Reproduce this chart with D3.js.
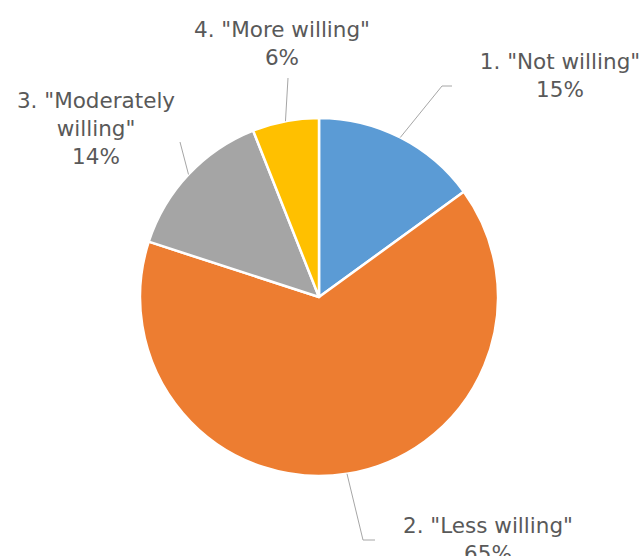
<!DOCTYPE html>
<html>
<head>
<meta charset="utf-8">
<script src="https://cdn.jsdelivr.net/npm/d3@7"></script>
<style>
  html, body { margin: 0; padding: 0; background: #fff; }
  svg { display: block; }
</style>
</head>
<body>
<svg id="chart" width="642" height="556"></svg>
<script>
// Willingness responses, clockwise from 12 o'clock
const categories = ['1. "Not willing"', '2. "Less willing"', '3. "Moderately willing"', '4. "More willing"'];
const values = [15, 65, 14, 6];
const colors = ["#5B9BD5", "#ED7D31", "#A5A5A5", "#FFC000"];

// Label text lines for each slice (the long category wraps)
const labelLines = [
  ['1. "Not willing"'],
  ['2. "Less willing"'],
  ['3. "Moderately', 'willing"'],
  ['4. "More willing"']
];

// Label placement: centre x and first baseline y, plus leader elbow and tail
const labelLayout = [
  { x: 560, y: 69,  elbow: [442, 86],  tail: [452, 86] },
  { x: 488, y: 533, elbow: [363, 540], tail: [375, 540] },
  { x: 96,  y: 108, elbow: [180, 142], tail: null },
  { x: 282, y: 37,  elbow: [288, 78],  tail: null }
];

const W = 642, H = 556;
const cx = 319, cy = 297, radius = 179;
const lineH = 28;

const svg = d3.select("#chart");
const g = svg.append("g").attr("transform", `translate(${cx},${cy})`);

const pie = d3.pie().sort(null).value(d => d.value);
const arc = d3.arc().innerRadius(0).outerRadius(radius);

const data = categories.map((c, i) => ({ name: c, value: values[i], color: colors[i] }));
const arcs = pie(data);

g.selectAll("path.slice")
  .data(arcs)
  .join("path")
  .attr("class", "slice")
  .attr("d", arc)
  .attr("fill", d => d.data.color)
  .attr("stroke", "#fff")
  .attr("stroke-width", 2.5)
  .attr("stroke-linejoin", "round");

const total = d3.sum(values);

// Leader lines from the arc edge at each slice's mid-angle
arcs.forEach((a, i) => {
  const mid = (a.startAngle + a.endAngle) / 2;
  const sx = cx + radius * Math.sin(mid);
  const sy = cy - radius * Math.cos(mid);
  const L = labelLayout[i];
  const pts = [[sx, sy], L.elbow];
  if (L.tail) pts.push(L.tail);
  svg.append("path")
    .attr("d", d3.line()(pts))
    .attr("fill", "none")
    .attr("stroke", "#A6A6A6")
    .attr("stroke-width", 1);
});

// Data labels: category name and percentage
arcs.forEach((a, i) => {
  const L = labelLayout[i];
  const lines = labelLines[i].concat([d3.format(".0%")(a.data.value / total)]);
  const t = svg.append("text")
    .attr("text-anchor", "middle")
    .attr("font-family", "'DejaVu Sans', sans-serif")
    .attr("font-size", 21.5)
    .attr("fill", "#595959");
  lines.forEach((ln, k) => {
    t.append("tspan")
      .attr("x", L.x)
      .attr("y", L.y + k * lineH)
      .text(ln);
  });
});
</script>
</body>
</html>
